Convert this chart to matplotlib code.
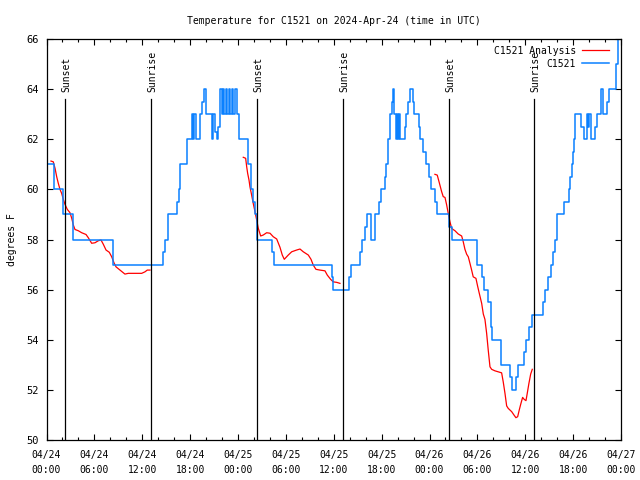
import matplotlib
matplotlib.use('Agg')
import matplotlib.pyplot as plt

# hours since 2024-04-24 00:00 UTC
obs_h = [0.23, 0.88, 2.01, 3.26, 8.33, 14.56, 14.85, 15.26, 16.32, 16.6, 16.73, 17.57,
         18.27, 18.4, 18.52, 18.7, 19.24, 19.52, 19.77, 19.99, 20.7, 20.9, 21.12, 21.33,
         21.53, 21.74, 21.95, 22.16, 22.28, 22.49, 22.66, 22.83, 23.0, 23.2, 23.41, 23.62,
         23.91, 24.16, 25.29, 25.63, 25.92, 26.13, 26.42, 28.3, 28.55, 35.81, 35.94,
         37.94, 38.2, 39.29, 39.5, 39.95, 40.2, 40.63, 41.17, 41.7, 41.88, 42.42, 42.61,
         42.79, 43.04, 43.26, 43.46, 43.61, 43.8, 43.92, 44.05, 44.17, 44.36, 44.92, 45.11,
         45.36, 45.55, 45.96, 46.12, 46.68, 46.87, 47.18, 47.52, 47.97, 48.18, 48.72, 48.97,
         50.48, 50.78, 53.98, 54.54, 54.82, 55.33, 55.66, 55.76, 55.86, 56.99, 58.08, 58.3,
         58.83, 59.05, 59.84, 60.09, 60.5, 60.8, 62.26, 62.47, 62.84, 63.18, 63.47, 63.72,
         63.93, 64.89, 65.48, 65.66, 65.85, 65.98, 66.1, 66.23, 66.98, 67.36, 67.69, 67.89,
         68.02, 68.2, 68.73, 68.95, 69.49, 69.7, 70.2, 70.53, 71.37, 71.65, 72.0]
obs_t = [61, 60, 59, 58, 57, 57.5, 58, 59, 59.5, 60, 61, 62,
         63, 62, 63, 62, 63, 63.5, 64, 63, 62, 63, 62.3, 62,
         62.5, 64, 63, 64, 63, 64, 63, 64, 63, 64, 63, 64,
         63, 62, 61, 60, 59.5, 59, 58, 57.5, 57, 56.5, 56,
         56.5, 57, 57.5, 58, 58.5, 59, 58, 59, 59.5, 60, 60.5, 61,
         62, 63, 63.5, 64, 63, 62, 63, 62, 63, 62, 62.5, 63,
         63.5, 64, 63.5, 63, 62.5, 62, 61.5, 61, 60.5, 60, 59.5, 59,
         58.5, 58, 57, 56.5, 56, 55.5, 55, 54.5, 54, 53, 52.5, 52,
         52.5, 53, 53.5, 54, 54.5, 55, 55.5, 56, 56.5, 57, 57.5, 58,
         59, 59.5, 60, 60.5, 61, 61.5, 62, 63, 62.5, 62, 63, 62.5,
         63, 62, 62.5, 63, 64, 63, 63.5, 64, 65, 66, 66]

ana1_h = [0.56, 0.85, 1.07, 1.28, 1.48, 1.69, 1.9, 2.11, 2.32, 2.61, 2.94, 3.16, 3.36, 3.57,
          3.98, 4.41, 4.95, 5.24, 5.66, 6.08, 6.49, 6.83, 7.12, 7.46, 7.87, 8.17, 8.46,
          8.71, 9.21, 9.83, 10.25, 11.93, 12.34, 12.63, 12.97]
ana1_t = [61.13, 61.1, 60.84, 60.5, 60.24, 60.0, 59.84, 59.6, 59.4, 59.2, 59.07, 58.85, 58.58,
          58.4, 58.35, 58.27, 58.2, 58.07, 57.85, 57.87, 57.95, 57.98, 57.81, 57.58, 57.49,
          57.31, 57.07, 56.91, 56.78, 56.62, 56.65, 56.65, 56.71, 56.78, 56.78]

ana2_h = [24.66, 24.96, 25.09, 25.21, 25.38, 25.5, 25.71, 25.91, 26.13, 26.34, 26.54, 26.84,
          27.17, 27.59, 28.01, 28.42, 28.85, 29.26, 29.55, 29.8, 30.3, 30.73, 31.35, 31.77,
          32.18, 32.81, 33.15, 33.43, 33.77, 34.27, 34.9, 35.19, 35.61, 35.94, 36.37, 36.78]
ana2_t = [61.28, 61.24, 60.9, 60.64, 60.37, 60.1, 59.77, 59.44, 59.11, 58.78, 58.45, 58.14,
          58.18, 58.27, 58.25, 58.11, 58.02, 57.69, 57.38, 57.21, 57.38, 57.51, 57.58, 57.62,
          57.51, 57.38, 57.21, 56.98, 56.81, 56.78, 56.75, 56.58, 56.41, 56.31, 56.29, 56.25]

ana3_h = [48.68, 48.97, 49.19, 49.52, 49.72, 49.94, 50.15, 50.35, 50.56, 50.78, 51.19, 51.6,
          52.03, 52.23, 52.44, 52.66, 52.86, 53.07, 53.28, 53.48, 53.82, 54.03, 54.24, 54.54,
          54.74, 54.95, 55.16, 55.36, 55.58, 55.79, 56.2, 56.62, 57.04, 57.24, 57.46, 57.67,
          57.87, 58.3, 58.58, 58.83, 59.05, 59.25, 59.46, 59.67, 59.87, 60.09, 60.25, 60.46,
          60.68, 60.88]
ana3_t = [60.6, 60.57, 60.31, 59.91, 59.71, 59.68, 59.38, 59.04, 58.71, 58.44, 58.35, 58.22,
          58.14, 57.91, 57.61, 57.41, 57.31, 57.05, 56.78, 56.51, 56.45, 56.14, 55.85, 55.45,
          55.03, 54.81, 54.26, 53.59, 52.92, 52.82, 52.76, 52.72, 52.68, 52.32, 51.86, 51.36,
          51.26, 51.13, 51.0, 50.89, 50.93, 51.2, 51.46, 51.7, 51.62, 51.57, 51.86, 52.26,
          52.63, 52.82]

sun_h = [2.36, 13.13, 26.42, 37.19, 50.48, 61.14]
sun_lbl = ['Sunset', 'Sunrise', 'Sunset', 'Sunrise', 'Sunset', 'Sunrise']

tick_h = list(range(0, 73, 6))
tick_lbl = ['04/24\n00:00', '04/24\n06:00', '04/24\n12:00', '04/24\n18:00',
            '04/25\n00:00', '04/25\n06:00', '04/25\n12:00', '04/25\n18:00',
            '04/26\n00:00', '04/26\n06:00', '04/26\n12:00', '04/26\n18:00',
            '04/27\n00:00']

plt.rcParams['font.family'] = 'DejaVu Sans Mono'
plt.rcParams['font.size'] = 7

fig = plt.figure(figsize=(6.4, 4.8), dpi=100)
ax = fig.add_axes([46.5 / 640, 1 - 440 / 480, (621 - 46.5) / 640, 401 / 480])

red = '#ff0000'
blue = '#0a80ff'

ax.plot(ana1_h, ana1_t, color=red, lw=0.9, label='C1521 Analysis')
ax.plot(ana2_h, ana2_t, color=red, lw=0.9)
ax.plot(ana3_h, ana3_t, color=red, lw=0.9)
ax.plot(obs_h, obs_t, color=blue, lw=1.1, drawstyle='steps-post', label='C1521')

# sunset / sunrise markers
for h, lbl in zip(sun_h, sun_lbl):
    ax.plot([h, h], [50, 63.6], color='black', lw=0.9)
    ax.text(h + 0.15, 63.88, lbl, rotation=90, ha='center', va='bottom', fontsize=7)

ax.set_xlim(0, 72)
ax.set_ylim(50, 66)
ax.set_xticks(tick_h)
ax.set_xticklabels(tick_lbl, linespacing=1.6)
ax.set_xticks(range(0, 73, 2), minor=True)
ax.set_yticks(range(50, 67, 2))
ax.tick_params(direction='in', top=True, right=True, length=4, width=0.8)
ax.tick_params(axis='x', pad=7.5)
ax.tick_params(axis='y', pad=5.5, labelsize=7.5)
ax.tick_params(which='minor', direction='in', top=True, length=2, width=0.8)
for s in ax.spines.values():
    s.set_linewidth(0.9)

ax.set_ylabel('degrees F', labelpad=7)
ax.set_title('Temperature for C1521 on 2024-Apr-24 (time in UTC)', fontsize=7, pad=11)
ax.legend(loc='upper right', bbox_to_anchor=(0.991, 1.0), frameon=False, markerfirst=False,
          handlelength=2.8, borderaxespad=0.3, labelspacing=0.3, handletextpad=0.6,
          fontsize=7)

fig.savefig('out.png', dpi=100)
